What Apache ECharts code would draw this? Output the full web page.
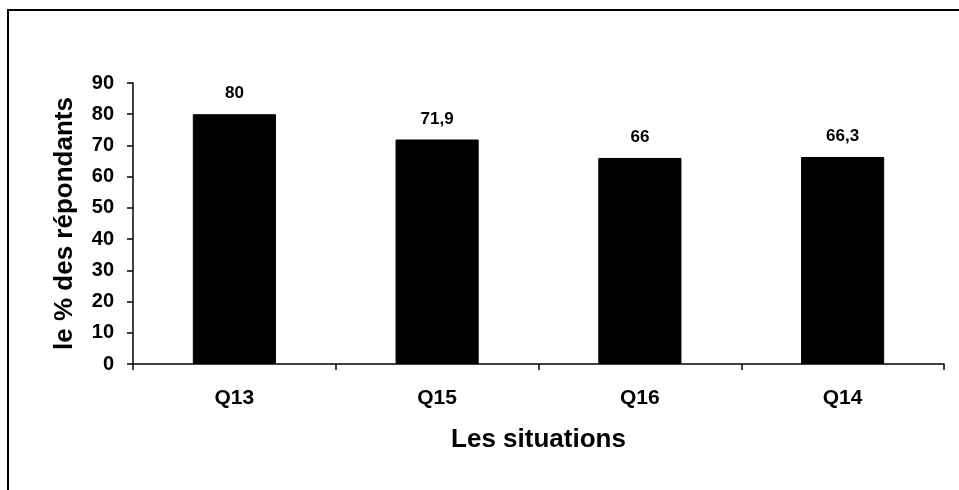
<!DOCTYPE html>
<html><head><meta charset="utf-8">
<script src="https://cdn.jsdelivr.net/npm/echarts@6/dist/echarts.min.js"></script>
<style>html,body{margin:0;padding:0;background:#fff}#c{width:959px;height:490px}</style>
</head><body><div id="c"></div>
<script>
const categories = ['Q13', 'Q15', 'Q16', 'Q14'];
const values = [80, 71.9, 66, 66.3];
const yTicks = [0, 10, 20, 30, 40, 50, 60, 70, 80, 90];

const chart = echarts.init(document.getElementById('c'));
const font = '"Liberation Sans", Arial, sans-serif';
chart.setOption({
  animation: false,
  backgroundColor: '#fff',
  graphic: [{
    type: 'rect', shape: {x: 8, y: 10, width: 1000, height: 600},
    style: {fill: 'none', stroke: '#000', lineWidth: 2}, silent: true
  }],
  grid: {left: 133, right: 15, top: 83, bottom: 126},
  xAxis: {
    type: 'category', data: categories,
    name: 'Les situations', nameLocation: 'middle', nameGap: 63,
    nameTextStyle: {fontFamily: font, fontWeight: 'bold', fontSize: 26, color: '#000'},
    axisLine: {lineStyle: {color: '#000', width: 1.5}},
    axisTick: {show: true, length: 6, lineStyle: {color: '#000', width: 1.5}},
    axisLabel: {fontFamily: font, fontWeight: 'bold', fontSize: 21, color: '#000', margin: 24}
  },
  yAxis: {
    type: 'value', min: 0, max: 90, interval: 10,
    name: 'le % des répondants', nameLocation: 'middle', nameGap: 55,
    nameTextStyle: {fontFamily: font, fontWeight: 'bold', fontSize: 26, color: '#000'},
    axisLine: {show: true, lineStyle: {color: '#000', width: 1.5}},
    axisTick: {show: true, length: 6, lineStyle: {color: '#000', width: 1.5}},
    splitLine: {show: false},
    axisLabel: {fontFamily: font, fontWeight: 'bold', fontSize: 20, color: '#000', margin: 19,
      formatter: v => yTicks.includes(v) ? String(v) : ''}
  },
  series: [{
    type: 'bar', data: values, barWidth: '41%',
    itemStyle: {color: '#000', borderColor: '#000', borderWidth: 1},
    label: {show: true, position: 'top', distance: 12, fontFamily: font, fontWeight: 'bold',
      fontSize: 17, color: '#000', formatter: p => String(p.value).replace('.', ',')}
  }]
});
</script></body></html>
